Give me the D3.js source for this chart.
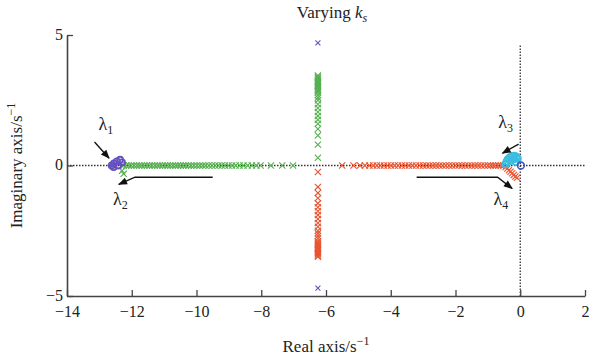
<!DOCTYPE html>
<html>
<head>
<meta charset="utf-8">
<script src="https://cdn.jsdelivr.net/npm/d3@7/dist/d3.min.js"></script>
<style>
  html, body { margin: 0; padding: 0; background: #fff; }
  svg text { font-family: "Liberation Serif", "DejaVu Serif", serif; fill: #222; }
</style>
</head>
<body>
<svg id="chart" width="589" height="360"></svg>
<script>
// Eigenvalue trajectories as k_s varies (real part, imaginary part)
const xTicks = [-14, -12, -10, -8, -6, -4, -2, 0, 2];
const yTicks = [-5, 0, 5];

// green branch on the real axis
const greenReal = [-12.25, -12.17, -12.09, -12.01, -11.93, -11.85, -11.77, -11.69, -11.61, -11.53,
  -11.45, -11.37, -11.29, -11.21, -11.13, -11.05, -10.97, -10.89, -10.81, -10.73, -10.65, -10.57,
  -10.49, -10.41, -10.33, -10.25, -10.17, -10.08, -9.99, -9.9, -9.81, -9.72, -9.62, -9.52, -9.42,
  -9.32, -9.22, -9.12, -9.01, -8.9, -8.79, -8.67, -8.55, -8.42, -8.29, -8.15, -8.02, -7.7, -7.35, -7.02];
const greenExtra = [[-12.3, -0.2], [-12.25, -0.32]];
// green branch going up along Re = -6.25
const greenImag = [3.45, 3.4, 3.35, 3.3, 3.25, 3.2, 3.15, 3.1, 3.05, 3.0, 2.95, 2.9, 2.85, 2.8,
  2.7, 2.6, 2.5, 2.35, 2.2, 2.05, 1.9, 1.75, 1.6, 1.4, 1.15, 0.8, 0.3];
// red branch going down along Re = -6.25
const redImag = [-0.25, -0.82, -1.05, -1.25, -1.45, -1.6, -1.75, -1.9, -2.05, -2.2, -2.35, -2.5,
  -2.6, -2.7, -2.8, -2.9, -2.95, -3.0, -3.05, -3.1, -3.15, -3.2, -3.25, -3.3, -3.35, -3.4, -3.45, -3.5];
const branchRe = -6.25;
// red branch on the real axis
const redReal = [-5.5, -5.15, -4.95, -4.8, -4.66, -4.54, -4.43, -4.32, -4.21, -4.1, -3.99, -3.88,
  -3.77, -3.66, -3.55, -3.44, -3.33, -3.22, -3.11, -3.0, -2.9, -2.8, -2.7, -2.6, -2.5, -2.4, -2.3,
  -2.2, -2.1, -2.0, -1.9, -1.8, -1.7, -1.6, -1.5, -1.4, -1.3, -1.2, -1.1, -1.0, -0.92, -0.84,
  -0.76, -0.68, -0.6, -0.52];
const redCurve = [[-0.45, -0.06], [-0.4, -0.12], [-0.35, -0.18], [-0.3, -0.24], [-0.25, -0.3],
  [-0.2, -0.36], [-0.15, -0.42], [-0.1, -0.47]];
// cyan cluster (lambda 3)
const cyanPts = [[-0.45, 0.05], [-0.42, 0.15], [-0.38, 0.24], [-0.32, 0.31], [-0.25, 0.36],
  [-0.18, 0.37], [-0.12, 0.33], [-0.08, 0.26], [-0.3, 0.18], [-0.2, 0.24], [-0.14, 0.14]];
// purple cluster (lambda 1) and purple crosses
const purpleCircles = [[-12.62, 0.0], [-12.55, 0.08], [-12.46, 0.16], [-12.36, 0.22],
  [-12.3, 0.12], [-12.42, 0.0], [-12.56, -0.06]];
const purpleCross = [[-6.25, 4.7], [-6.25, -4.7]];
const bluePt = [[0.02, 0.0]];

const svg = d3.select("#chart");
const x = d3.scaleLinear().domain([-14, 2]).range([67, 585]);
const y = d3.scaleLinear().domain([-5, 5]).range([296, 35]);

const green = "#55b04f", red = "#e9532f", purple = "#6550c0", cyan = "#3bbde0", blue = "#4a56c0";

// dotted reference lines through the origin
svg.append("line").attr("x1", x(-14)).attr("x2", x(2)).attr("y1", y(0)).attr("y2", y(0))
  .attr("stroke", "#333").attr("stroke-width", 1.3).attr("stroke-dasharray", "1.5,1.5");
svg.append("line").attr("x1", x(0)).attr("x2", x(0)).attr("y1", y(4.6)).attr("y2", y(-5))
  .attr("stroke", "#333").attr("stroke-width", 1.3).attr("stroke-dasharray", "1.5,1.5");

// axes (ticks point inwards)
const fmt = d => d < 0 ? "\u2212" + Math.abs(d) : d;
const xAxis = d3.axisBottom(x).tickValues(xTicks).tickSizeInner(-6).tickSizeOuter(0).tickFormat(fmt);
const gx = svg.append("g").attr("transform", `translate(0,${y(-5)})`).call(xAxis);
gx.select(".domain").attr("stroke", "#444").attr("stroke-width", 1.6);
gx.selectAll(".tick line").attr("stroke", "#444").attr("stroke-width", 1.3);
gx.selectAll(".tick text").attr("y", 10).attr("font-size", 16).style("font-family", "Liberation Serif");

const yAxis = d3.axisLeft(y).tickValues(yTicks).tickSizeInner(-6).tickSizeOuter(0).tickFormat(fmt);
const gy = svg.append("g").attr("transform", `translate(${x(-14)},0)`).call(yAxis);
gy.select(".domain").attr("stroke", "#444").attr("stroke-width", 1.6);
gy.selectAll(".tick line").attr("stroke", "#444").attr("stroke-width", 1.3);
gy.selectAll(".tick text").attr("x", -4).attr("dy", "0.28em").attr("font-size", 16)
  .style("font-family", "Liberation Serif");

// marker helpers
function crosses(pts, color, s = 3.1) {
  const g = svg.append("g").attr("stroke", color).attr("stroke-width", 1.1).attr("fill", "none");
  g.selectAll("path").data(pts).join("path")
    .attr("d", d => {
      const cx = x(d[0]), cy = y(d[1]);
      return `M${cx - s},${cy - s}L${cx + s},${cy + s}M${cx - s},${cy + s}L${cx + s},${cy - s}`;
    });
}
function circles(pts, color, r = 3.2, w = 1.6) {
  svg.append("g").selectAll("circle").data(pts).join("circle")
    .attr("cx", d => x(d[0])).attr("cy", d => y(d[1])).attr("r", r)
    .attr("fill", "none").attr("stroke", color).attr("stroke-width", w);
}

crosses(greenReal.map(v => [v, 0]), green);
crosses(greenExtra, green);
crosses(greenImag.map(v => [branchRe, v]), green);
crosses(redReal.map(v => [v, 0]), red);
crosses(redCurve, red);
crosses(redImag.map(v => [branchRe, v]), red);
crosses(purpleCross, purple, 2.5);
circles(cyanPts, cyan, 3.2, 1.8);
circles(purpleCircles, purple, 3.0, 1.8);
circles(bluePt, blue, 3.4, 1.6);

// annotation arrows
const defs = svg.append("defs");
defs.append("marker").attr("id", "ah").attr("viewBox", "0 0 10 10").attr("refX", 9).attr("refY", 5)
  .attr("markerWidth", 9).attr("markerHeight", 7).attr("orient", "auto")
  .append("path").attr("d", "M0,1L10,5L0,9Z").attr("fill", "#111");
function arrow(pts) {
  svg.append("path").attr("d", d3.line()(pts)).attr("fill", "none")
    .attr("stroke", "#111").attr("stroke-width", 1.3).attr("marker-end", "url(#ah)");
}
arrow([[x(-13.15), y(0.9)], [x(-12.7), y(0.28)]]);
arrow([[x(-9.5), y(-0.45)], [x(-11.9), y(-0.45)], [x(-12.4), y(-0.72)]]);
arrow([[x(-0.05), y(0.82)], [x(-0.55), y(0.47)]]);
arrow([[x(-3.2), y(-0.45)], [x(-0.7), y(-0.45)], [x(-0.25), y(-0.88)]]);

// lambda labels
function lam(px, py, sub) {
  const t = svg.append("text").attr("x", px).attr("y", py).attr("font-size", 18)
    .attr("text-anchor", "middle").style("font-family", "Liberation Serif");
  t.append("tspan").text("\u03bb");
  t.append("tspan").attr("dy", 4).attr("font-size", 12).text(sub);
}
lam(x(-12.8), y(1.35), "1");
lam(x(-12.35), y(-1.5), "2");
lam(x(-0.45), y(1.45), "3");
lam(x(-0.6), y(-1.5), "4");

// title
const title = svg.append("text").attr("x", (x(-14) + x(2)) / 2 + 6).attr("y", 18)
  .attr("text-anchor", "middle").attr("font-size", 17);
title.append("tspan").text("Varying ");
title.append("tspan").attr("font-style", "italic").text("k");
title.append("tspan").attr("font-style", "italic").attr("font-size", 12).attr("dy", 4).text("s");

// axis titles
const xt = svg.append("text").attr("x", (x(-14) + x(2)) / 2).attr("y", 352)
  .attr("text-anchor", "middle").attr("font-size", 17);
xt.append("tspan").text("Real axis/s");
xt.append("tspan").attr("dy", -7).attr("font-size", 12).text("\u22121");

const yt = svg.append("text").attr("transform", `translate(22,${y(0)}) rotate(-90)`)
  .attr("text-anchor", "middle").attr("font-size", 17);
yt.append("tspan").text("Imaginary axis/s");
yt.append("tspan").attr("dy", -7).attr("font-size", 12).text("\u22121");
</script>
</body>
</html>
